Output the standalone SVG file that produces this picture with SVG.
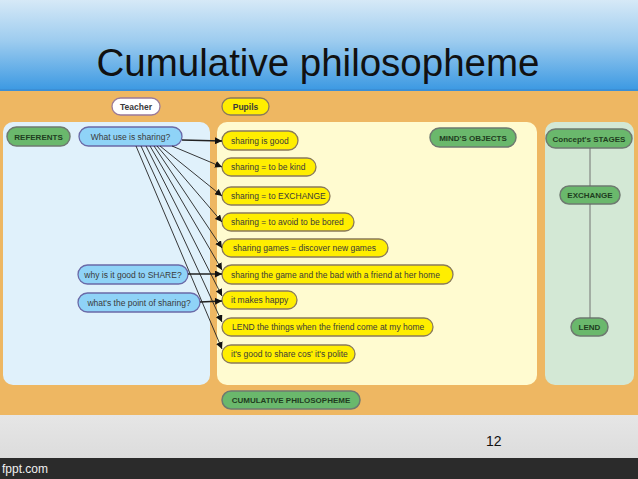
<svg xmlns="http://www.w3.org/2000/svg" width="638" height="479" viewBox="0 0 638 479">
<defs>
<linearGradient id="sky" x1="0" y1="0" x2="0" y2="1">
<stop offset="0" stop-color="#d6e9f7"/>
<stop offset="0.45" stop-color="#9dccef"/>
<stop offset="1" stop-color="#3a98e2"/>
</linearGradient>
<linearGradient id="floor" x1="0" y1="0" x2="0" y2="1">
<stop offset="0" stop-color="#e6e6e6"/>
<stop offset="1" stop-color="#dcdcdc"/>
</linearGradient>
<marker id="ah" viewBox="0 0 10 10" refX="10" refY="5" markerWidth="7" markerHeight="7" markerUnits="userSpaceOnUse" orient="auto">
<path d="M0,0 L10,5 L0,10 z" fill="#111"/>
</marker>
<style>
text{font-family:"Liberation Sans",Arial,sans-serif}
.t{font-size:8.5px;fill:#3a3a3a}
.b{font-size:8px;font-weight:bold;fill:#1f3d1f}
.y{fill:#ffee00;stroke:#8a7a5a;stroke-width:1.3}
.q{fill:#8fd3f7;stroke:#6a6aa8;stroke-width:1.3}
.g{fill:#6ab86c;stroke:#6e7a70;stroke-width:1.5}
.c line{stroke:#222;stroke-width:0.9;marker-end:url(#ah)}
</style>
</defs>
<rect x="0" y="0" width="638" height="91" fill="url(#sky)"/>
<rect x="0" y="89" width="638" height="2" fill="#3b8fd6"/>
<text x="318" y="76" font-size="38.5" text-anchor="middle" fill="#111">Cumulative philosopheme</text>
<rect x="0" y="91" width="638" height="324" fill="#eeb762"/>
<rect x="0" y="415" width="638" height="43" fill="url(#floor)"/>
<rect x="0" y="458" width="638" height="21" fill="#2b2b2b"/>
<text x="2" y="473" font-size="12" fill="#f0f0f0">fppt.com</text>
<text x="486" y="446" font-size="14" fill="#111">12</text>

<g id="panels">
<rect x="3" y="122" width="207" height="263" rx="10" fill="#e0f1fb"/>
<rect x="217" y="122" width="320" height="263" rx="10" fill="#fffbd0"/>
<rect x="545" y="122" width="89" height="263" rx="10" fill="#d3e8d5"/>
</g>

<g id="teacher"><rect x="112" y="98" width="48" height="17" rx="8.5" fill="#fff" stroke="#9a7a9a" stroke-width="1.3"/><text class="t" x="136" y="109.5" text-anchor="middle" font-weight="bold">Teacher</text></g>
<g id="pupils"><rect x="222" y="98" width="47" height="17" rx="8.5" class="y"/><text class="t" x="245.5" y="109.5" text-anchor="middle" font-weight="bold" fill="#222">Pupils</text></g>
<g id="referents"><rect x="7" y="127" width="63" height="19" rx="9.5" class="g"/><text class="b" x="38.5" y="139.5" text-anchor="middle">REFERENTS</text></g>
<g id="q1"><rect x="79" y="127" width="103" height="19" rx="9.5" class="q"/><text class="t" x="130.5" y="139.5" text-anchor="middle">What use is sharing?</text></g>
<g id="q2"><rect x="78" y="265" width="110" height="19" rx="9.5" class="q"/><text class="t" x="133" y="277.5" text-anchor="middle">why is it good to SHARE?</text></g>
<g id="q3"><rect x="78" y="293" width="122" height="19" rx="9.5" class="q"/><text class="t" x="139" y="305.5" text-anchor="middle">what's the point of sharing?</text></g>
<g id="minds"><rect x="430" y="128" width="86" height="19" rx="9.5" class="g"/><text class="b" x="473" y="140.5" text-anchor="middle">MIND'S OBJECTS</text></g>
<g id="stages"><rect x="546" y="129" width="86" height="19" rx="9.5" class="g"/><text class="b" x="589" y="141.5" text-anchor="middle">Concept's STAGES</text></g>
<g id="exchange"><rect x="560" y="186" width="60" height="18" rx="9" class="g"/><text class="b" x="590" y="198" text-anchor="middle">EXCHANGE</text></g>
<g id="lend"><rect x="571" y="318" width="37" height="18" rx="9" class="g"/><text class="b" x="589.5" y="330" text-anchor="middle">LEND</text></g>
<g id="cumul"><rect x="222" y="391" width="138" height="18" rx="9" class="g"/><text class="b" x="291" y="403" text-anchor="middle">CUMULATIVE PHILOSOPHEME</text></g>

<g id="p1"><rect x="222" y="131" width="76" height="19" rx="9.5" class="y"/><text class="t" x="231" y="143.5">sharing is good</text></g>
<g id="p2"><rect x="222" y="158" width="94" height="18" rx="9" class="y"/><text class="t" x="231" y="170">sharing = to be kind</text></g>
<g id="p3"><rect x="222" y="187" width="108" height="18" rx="9" class="y"/><text class="t" x="231" y="199">sharing = to EXCHANGE</text></g>
<g id="p4"><rect x="222" y="213" width="132" height="18" rx="9" class="y"/><text class="t" x="231" y="225">sharing = to avoid to be bored</text></g>
<g id="p5"><rect x="222" y="239" width="166" height="18" rx="9" class="y"/><text class="t" x="233" y="251">sharing games = discover new games</text></g>
<g id="p6"><rect x="222" y="265" width="231" height="19" rx="9.5" class="y"/><text class="t" x="231" y="277.5">sharing the game and the bad with a friend at her home</text></g>
<g id="p7"><rect x="222" y="291" width="75" height="18" rx="9" class="y"/><text class="t" x="231" y="303">it makes happy</text></g>
<g id="p8"><rect x="222" y="318" width="211" height="18" rx="9" class="y"/><text class="t" x="232" y="330">LEND the things when the friend come at my home</text></g>
<g id="p9"><rect x="222" y="345" width="133" height="18" rx="9" class="y"/><text class="t" x="231" y="357">it's good to share cos' it's polite</text></g>

<g id="connectors" class="c">
<line x1="182" y1="140" x2="222" y2="141" style="stroke-width:1.4"/>
<line x1="172" y1="146" x2="222" y2="167"/>
<line x1="160" y1="146" x2="222" y2="196"/>
<line x1="157" y1="146" x2="222" y2="222"/>
<line x1="154" y1="146" x2="222" y2="248"/>
<line x1="150" y1="146" x2="222" y2="270"/>
<line x1="146" y1="146" x2="222" y2="296"/>
<line x1="141" y1="146" x2="222" y2="322"/>
<line x1="136" y1="146" x2="222" y2="349"/>
<line x1="188" y1="274" x2="222" y2="274" style="stroke-width:1.4"/>
<line x1="200" y1="302" x2="222" y2="301" style="stroke-width:1.4"/>
<line x1="590" y1="148" x2="590" y2="186" style="stroke:#666;marker-end:none"/>
<line x1="590" y1="204" x2="590" y2="318" style="stroke:#666;marker-end:none"/>
</g>
</svg>
